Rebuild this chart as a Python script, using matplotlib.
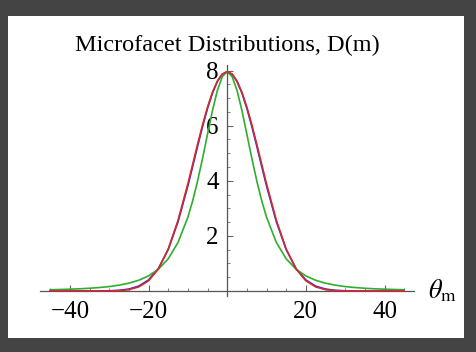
import matplotlib.pyplot as plt
from matplotlib.patches import Rectangle
from matplotlib.ticker import MultipleLocator

# microfacet angle (deg), one side; curves are symmetric about 0
theta_half = [0, 1.25, 2.5, 3.75, 5, 6.25, 7.5, 8.75, 10, 12.5, 15, 17.5, 20,
              22.5, 25, 27.5, 30, 32.5, 35, 37.5, 40, 42.5, 45]
# values for theta >= 0
beckmann_half = [7.958, 7.871, 7.616, 7.209, 6.673, 6.038, 5.340, 4.612, 3.889,
                 2.564, 1.519, 0.801, 0.372, 0.150, 0.051, 0.015, 0.003, 0.001,
                 0.0, 0.0, 0.0, 0.0, 0.0]
phong_half = [7.958, 7.867, 7.602, 7.180, 6.627, 5.977, 5.269, 4.537, 3.816,
              2.516, 1.507, 0.818, 0.402, 0.178, 0.071, 0.025, 0.008, 0.002,
              0.001, 0.0, 0.0, 0.0, 0.0]
ggx_half = [7.958, 7.779, 7.278, 6.545, 5.693, 4.824, 4.009, 3.289, 2.678,
            1.763, 1.170, 0.792, 0.549, 0.390, 0.285, 0.213, 0.162, 0.127,
            0.101, 0.081, 0.067, 0.056, 0.047]

theta = [-t for t in theta_half[::-1]] + theta_half[1:]
beckmann = beckmann_half[::-1] + beckmann_half[1:]
phong = phong_half[::-1] + phong_half[1:]
ggx = ggx_half[::-1] + ggx_half[1:]

x_ticks = [-40, -20, 20, 40]
y_ticks = [2, 4, 6, 8]

plt.rcParams['font.family'] = 'Liberation Serif'
plt.rcParams['mathtext.fontset'] = 'stix'

W, H = 477, 352
fig = plt.figure(figsize=(W / 100, H / 100), dpi=100, facecolor='#444444')
fig.patches.append(Rectangle((8 / W, 1 - 338 / H), 456 / W, 322 / H,
                             transform=fig.transFigure, facecolor='white',
                             edgecolor='none', zorder=-5))

ax = fig.add_axes([40 / W, 1 - 296 / H, 374 / W, 231 / H])
ax.set_facecolor('none')
ax.set_zorder(2)

ax.plot(theta, phong, color='#2a2ae0', lw=1.2, zorder=3)
ax.plot(theta, ggx, color='#2eae2e', lw=1.2, zorder=3)
ax.plot(theta, beckmann, color='#d42a2a', lw=1.2, zorder=4)

ax.set_xlim(-47.6, 47.5)
ax.set_ylim(-0.18, 8.2)

for s in ['top', 'right']:
    ax.spines[s].set_visible(False)
ax.spines['left'].set_position(('data', 0))
ax.spines['bottom'].set_position(('data', 0))
for s in ['left', 'bottom']:
    ax.spines[s].set_color('#555555')
    ax.spines[s].set_linewidth(0.9)

ax.set_xticks(x_ticks)
ax.set_yticks(y_ticks)
ax.xaxis.set_minor_locator(MultipleLocator(5))
ax.yaxis.set_minor_locator(MultipleLocator(0.5))
ax.tick_params(axis='x', which='both', direction='in', colors='#666666',
               labelcolor='black', labelsize=18, pad=7)
ax.tick_params(axis='y', which='both', direction='in', colors='#666666',
               labelcolor='black', labelsize=18, pad=6)
ax.tick_params(which='major', length=4, width=0.8)
ax.tick_params(which='minor', length=2.5, width=0.6)

fig.text(227 / W, 1 - 45 / H, 'Microfacet Distributions, D(m)', ha='center',
         va='center', fontsize=17.5)
fig.text(428 / W, 1 - 291 / H, r'$\theta_{\rm m}$', ha='left', va='center',
         fontsize=19)

fig.savefig('out.png', dpi=100, facecolor=fig.get_facecolor())
